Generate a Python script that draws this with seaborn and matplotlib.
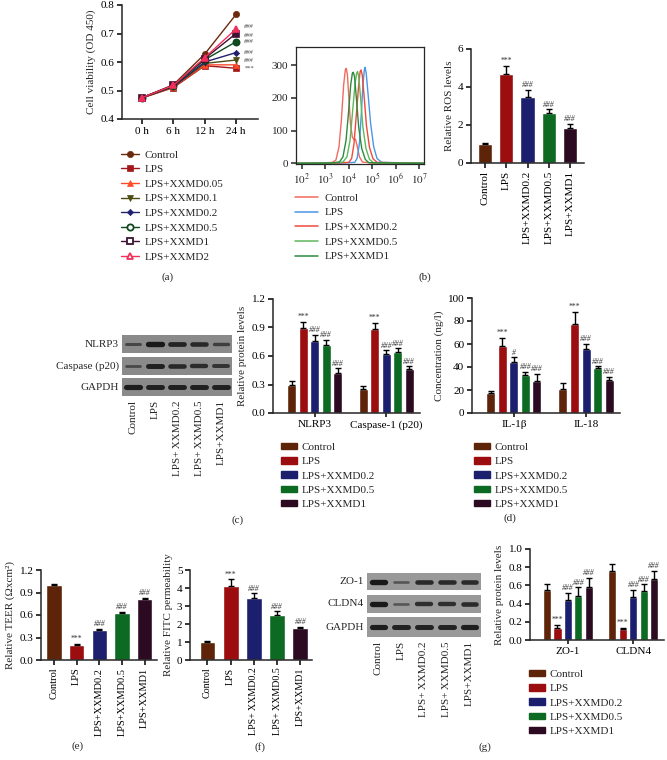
import numpy as np
import pandas as pd
import matplotlib

matplotlib.use("Agg")
import matplotlib.pyplot as plt
import seaborn as sns
from matplotlib.container import BarContainer
from matplotlib.patches import Patch
from matplotlib.lines import Line2D

W, H = 667, 760

GROUPS = ["Control", "LPS", "LPS+XXMD0.2", "LPS+XXMD0.5", "LPS+XXMD1"]
GROUP_COLORS = ["#5e2409", "#9b0d0f", "#1b1f6e", "#0d6a22", "#2c0a22"]
GROUP_SIG = ["", "***", "###", "###", "###"]

# (a) cell viability
TIMES = ["0 h", "6 h", "12 h", "24 h"]
VIAB_GROUPS = ["Control", "LPS", "LPS+XXMD0.05", "LPS+XXMD0.1",
               "LPS+XXMD0.2", "LPS+XXMD0.5", "LPS+XXMD1", "LPS+XXMD2"]
VIAB_CONTROL = [0.475, 0.520, 0.628, 0.767]
VIAB_LPS = [0.474, 0.510, 0.587, 0.578]
VIAB_X005 = [0.474, 0.512, 0.590, 0.590]
VIAB_X01 = [0.474, 0.513, 0.595, 0.607]
VIAB_X02 = [0.475, 0.515, 0.600, 0.633]
VIAB_X05 = [0.475, 0.517, 0.608, 0.671]
VIAB_X1 = [0.475, 0.518, 0.612, 0.700]
VIAB_X2 = [0.475, 0.518, 0.615, 0.716]
VIAB_SIG = ["", "***", "", "###", "###", "###", "###", "###"]
VIAB_COLORS = ["#6b2a0e", "#a3161a", "#ff4a2a", "#4b4b12",
               "#20206e", "#0f4a1f", "#3d1233", "#f0305a"]
VIAB_MARKERS = ["o", "s", "^", "v", "D", "o", "s", "^"]

# (b) flow cytometry histogram, log10 intensity vs count
HIST_GROUPS = ["Control", "LPS", "LPS+XXMD0.2", "LPS+XXMD0.5", "LPS+XXMD1"]
HIST_COLORS = ["#f26b61", "#4a96e8", "#f04a3a", "#5cb85c", "#2e8b3e"]
HIST_CONTROL_X = [1.75, 2.8, 3.3, 3.45, 3.58, 3.68, 3.78, 3.85, 3.89, 3.94, 4.0, 4.07, 4.15, 4.22, 4.28, 4.35, 4.45, 4.58, 5.0, 7.2]
HIST_CONTROL_Y = [0, 1, 3, 10, 50, 130, 240, 285, 290, 270, 200, 120, 80, 72, 74, 55, 20, 4, 1, 0]
HIST_LPS_X = [1.75, 3.7, 4.25, 4.35, 4.45, 4.53, 4.6, 4.66, 4.69, 4.74, 4.82, 4.93, 5.06, 5.2, 5.4, 7.2]
HIST_LPS_Y = [0, 1, 3, 15, 60, 150, 240, 285, 293, 275, 210, 120, 50, 15, 3, 0]
HIST_X02_X = [1.75, 3.5, 4.0, 4.12, 4.22, 4.32, 4.42, 4.48, 4.52, 4.57, 4.65, 4.75, 4.88, 5.03, 5.2, 7.2]
HIST_X02_Y = [0, 1, 3, 15, 60, 150, 240, 280, 285, 270, 205, 115, 48, 14, 3, 0]
HIST_X05_X = [1.75, 3.3, 3.75, 3.92, 4.05, 4.15, 4.26, 4.33, 4.37, 4.42, 4.5, 4.6, 4.73, 4.88, 5.05, 7.2]
HIST_X05_Y = [0, 1, 4, 20, 70, 150, 240, 275, 280, 265, 200, 110, 45, 12, 2, 0]
HIST_X1_X = [1.75, 3.2, 3.6, 3.75, 3.88, 3.98, 4.08, 4.15, 4.19, 4.24, 4.32, 4.42, 4.55, 4.7, 4.85, 7.2]
HIST_X1_Y = [0, 1, 4, 20, 70, 150, 240, 275, 278, 265, 200, 110, 45, 12, 2, 0]

# (b) ROS
ROS_VALUES = [1.00, 4.70, 3.50, 2.65, 1.85]
ROS_ERRORS = [0.05, 0.42, 0.34, 0.17, 0.21]

# (c) western blot + quantification
BLOT_C_ROWS = ["NLRP3", "Caspase (p20)", "GAPDH"]
BLOT_C_NLRP3 = [0.35, 0.95, 0.8, 0.75, 0.45]
BLOT_C_CASP = [0.3, 0.85, 0.75, 0.7, 0.6]
BLOT_C_GAPDH = [0.9, 0.85, 0.85, 0.85, 0.85]
LANE_LABELS = ["Control", "LPS", "LPS+\u2009XXMD0.2", "LPS+\u2009XXMD0.5", "LPS+XXMD1"]
PROT_C_TARGETS = ["NLRP3", "Caspase-1 (p20)"]
NLRP3_VALUES = [0.29, 0.89, 0.76, 0.72, 0.42]
NLRP3_ERRORS = [0.05, 0.07, 0.06, 0.05, 0.05]
NLRP3_SIG = ["", "***", "###", "###", "###"]
CASP_VALUES = [0.25, 0.88, 0.62, 0.64, 0.46]
CASP_ERRORS = [0.03, 0.07, 0.04, 0.04, 0.03]
CASP_SIG = ["", "***", "###", "###", "###"]

# (d) ELISA
CYTO_TARGETS = ["IL-1β", "IL-18"]
IL1B_VALUES = [17, 58, 44.5, 33, 28]
IL1B_ERRORS = [2.5, 7.5, 4, 3, 6]
IL1B_SIG = ["", "***", "#", "###", "###"]
IL18_VALUES = [21, 77, 56, 39.5, 29]
IL18_ERRORS = [5.5, 11, 4, 1.2, 2.5]
IL18_SIG = ["", "***", "###", "###", "###"]

# (e) TEER
TEER_VALUES = [1.00, 0.20, 0.40, 0.63, 0.81]
TEER_ERRORS = [0.01, 0.015, 0.015, 0.015, 0.02]

# (f) FITC permeability
FITC_VALUES = [1.00, 4.10, 3.43, 2.52, 1.77]
FITC_ERRORS = [0.06, 0.38, 0.27, 0.18, 0.08]
FITC_TICKS = ["Control", "LPS", "LPS+\u2009XXMD0.2", "LPS+\u2009XXMD0.5", "LPS+XXMD1"]

# (g) western blot + quantification
BLOT_G_ROWS = ["ZO-1", "CLDN4", "GAPDH"]
BLOT_G_ZO1 = [0.95, 0.25, 0.75, 0.75, 0.75]
BLOT_G_CLDN4 = [0.95, 0.25, 0.7, 0.7, 0.75]
BLOT_G_GAPDH = [0.9, 0.85, 0.85, 0.85, 0.9]
PROT_G_TARGETS = ["ZO-1", "CLDN4"]
ZO1_VALUES = [0.55, 0.13, 0.44, 0.48, 0.58]
ZO1_ERRORS = [0.07, 0.04, 0.08, 0.10, 0.10]
ZO1_SIG = ["", "***", "###", "###", "###"]
CLDN4_VALUES = [0.76, 0.12, 0.47, 0.54, 0.67]
CLDN4_ERRORS = [0.07, 0.015, 0.08, 0.07, 0.09]
CLDN4_SIG = ["", "***", "###", "###", "###"]

sns.set_style("ticks")
plt.rcParams["font.family"] = ["Liberation Serif", "DejaVu Serif"]
plt.rcParams["mathtext.fontset"] = "stix"
plt.rcParams["axes.linewidth"] = 1.1
plt.rcParams["xtick.major.width"] = 1.1
plt.rcParams["ytick.major.width"] = 1.1
plt.rcParams["xtick.major.size"] = 3.5
plt.rcParams["ytick.major.size"] = 3.5
FS = 8


def px_rect(left, top, right, bottom):
    return [left / W, 1 - bottom / H, (right - left) / W, (bottom - top) / H]


def style_axis(ax, ylabel):
    sns.despine(ax=ax)
    ax.set_xlabel("")
    ax.set_ylabel(ylabel, fontsize=FS, labelpad=3)
    ax.tick_params(labelsize=FS, pad=2, colors="black")


def add_errors(ax, bars, values, errors, sig, fs=5.5):
    for bar, v, e, s in zip(bars, values, errors, sig):
        x = bar.get_x() + bar.get_width() / 2
        ax.errorbar(x, v, yerr=[[0], [e]], fmt="none", ecolor="black",
                    elinewidth=1, capsize=2.4, capthick=1, zorder=5)
        if s:
            ax.annotate(s, (x, v + e), xytext=(0, 0.5), textcoords="offset points",
                        ha="center", va="bottom", fontsize=fs, color="#333333",
                        fontstyle="italic" if s.startswith("#") else "normal")


def single_bar_panel(rect, values, errors, ylim, yticks, ylabel, xlim, ticklabels,
                     xfs=FS):
    ax = fig.add_axes(px_rect(*rect))
    df = pd.DataFrame({"group": GROUPS, "value": values})
    sns.barplot(data=df, x="group", y="value", hue="group", palette=GROUP_COLORS,
                saturation=1, width=0.68, legend=False, ax=ax)
    add_errors(ax, list(ax.patches), values, errors, GROUP_SIG)
    ax.set_ylim(*ylim)
    ax.set_yticks(yticks)
    ax.set_xlim(*xlim)
    style_axis(ax, ylabel)
    ax.set_xticks(range(len(GROUPS)))
    ax.set_xticklabels(ticklabels, rotation=90, fontsize=xfs)
    return ax


def grouped_bar_panel(rect, targets, values, errors, sigs, ylim, yticks, ylabel, yfmt):
    ax = fig.add_axes(px_rect(*rect))
    rows = []
    for t, vals in zip(targets, values):
        for g, v in zip(GROUPS, vals):
            rows.append({"target": t, "group": g, "value": v})
    df = pd.DataFrame(rows)
    sns.barplot(data=df, x="target", y="value", hue="group", hue_order=GROUPS,
                palette=GROUP_COLORS, saturation=1, width=0.8, gap=0.22,
                legend=False, ax=ax)
    bar_sets = [c for c in ax.containers if isinstance(c, BarContainer)]
    for j, cont in enumerate(bar_sets):
        add_errors(ax, list(cont.patches), [vals[j] for vals in values],
                   [errs[j] for errs in errors], [s[j] for s in sigs])
    ax.set_ylim(*ylim)
    ax.set_yticks(yticks)
    ax.set_yticklabels([yfmt.format(t) for t in yticks])
    ax.set_xlim(-0.58, 1.47)
    style_axis(ax, ylabel)
    ax.tick_params(axis="x", direction="inout", length=6)
    return ax


def group_legend(x, y):
    handles = [Patch(facecolor=c, edgecolor=c) for c in GROUP_COLORS]
    fig.legend(handles, GROUPS, loc="upper left", bbox_to_anchor=(x / W, 1 - y / H),
               frameon=False, fontsize=FS, handlelength=1.4, handleheight=0.5,
               handletextpad=0.45, labelspacing=0.46, borderpad=0, borderaxespad=0)


def blot_panel(left, right, tops, bottoms, names, intensities, bg):
    for k, (t, b, name, inten) in enumerate(zip(tops, bottoms, names, intensities)):
        ax = fig.add_axes(px_rect(left, t, right, b))
        ax.set_facecolor(bg)
        for i, v in enumerate(inten):
            ax.plot([i - 0.3, i + 0.3], [0, 0], color="#151515", lw=1.2 + 2.8 * v,
                    alpha=0.35 + 0.65 * v, solid_capstyle="round")
        ax.set_xlim(-0.5, len(inten) - 0.5)
        ax.set_ylim(-1, 1)
        ax.set_yticks([])
        for sp in ax.spines.values():
            sp.set_visible(False)
        ax.text(-0.03, 0.5, name, transform=ax.transAxes, ha="right", va="center",
                fontsize=FS)
        if k == len(names) - 1:
            ax.set_xticks(range(len(inten)))
            ax.set_xticklabels(LANE_LABELS, rotation=90, fontsize=FS)
            ax.tick_params(axis="x", length=0, pad=3)
        else:
            ax.set_xticks([])


fig = plt.figure(figsize=(W / 100, H / 100), dpi=100)

# ---------- (a) ----------
ax = fig.add_axes(px_rect(122, 5, 258, 119))
viab_series = [VIAB_CONTROL, VIAB_LPS, VIAB_X005, VIAB_X01, VIAB_X02, VIAB_X05, VIAB_X1, VIAB_X2]
# small vertical nudges so the stacked significance marks at 24 h stay apart
sig_nudge = {"LPS+XXMD2": 2.0, "LPS+XXMD1": -1.5}
handles = []
for name, vals, col, mk, s in zip(VIAB_GROUPS, viab_series, VIAB_COLORS, VIAB_MARKERS, VIAB_SIG):
    df = pd.DataFrame({"time": list(range(len(TIMES))), "value": vals})
    hollow = name in ("LPS+XXMD0.5", "LPS+XXMD1", "LPS+XXMD2")
    ms = 3.2 if mk == "D" else 4.5
    sns.lineplot(data=df, x="time", y="value", color=col, marker=mk, markersize=ms,
                 markeredgecolor=col, markeredgewidth=1.2 if hollow else 0.5,
                 markerfacecolor=col, lw=1, ax=ax, legend=False)
    handles.append(Line2D([0], [0], color=col, marker=mk, markersize=ms, lw=1,
                          markeredgecolor=col, markeredgewidth=1.3 if hollow else 0.5,
                          markerfacecolor="white" if hollow else col))
    if s:
        ax.annotate(s, (3, vals[-1]), xytext=(6, sig_nudge.get(name, 0)),
                    textcoords="offset points", ha="left", va="center",
                    fontsize=4.6, color="#444444",
                    fontstyle="italic" if s.startswith("#") else "normal")
ax.set_xlim(-0.64, 3.7)
ax.set_xticks(range(len(TIMES)))
ax.set_xticklabels(TIMES)
ax.set_ylim(0.4, 0.8)
ax.set_yticks([0.4, 0.5, 0.6, 0.7, 0.8])
style_axis(ax, "Cell viability (OD 450)")
fig.legend(handles, VIAB_GROUPS, loc="upper left", bbox_to_anchor=(121 / W, 1 - 150 / H),
           frameon=False, fontsize=FS, handlelength=1.6, handletextpad=0.55,
           labelspacing=0.43, borderpad=0, borderaxespad=0)
fig.text(168 / W, 1 - 277 / H, "(a)", ha="center", va="center", fontsize=FS)

# ---------- (b) histogram ----------
ax = fig.add_axes(px_rect(296, 47, 424, 164))
hist_x = [HIST_CONTROL_X, HIST_LPS_X, HIST_X02_X, HIST_X05_X, HIST_X1_X]
hist_y = [HIST_CONTROL_Y, HIST_LPS_Y, HIST_X02_Y, HIST_X05_Y, HIST_X1_Y]
for name, xs, ys, col in zip(HIST_GROUPS, hist_x, hist_y, HIST_COLORS):
    df = pd.DataFrame({"intensity": np.power(10.0, xs), "count": ys})
    sns.lineplot(data=df, x="intensity", y="count", color=col, lw=1, ax=ax,
                 legend=False, sort=False)
ax.set_xscale("log")
ax.set_xlim(10 ** 1.75, 10 ** 7.2)
ax.set_ylim(-2, 355)
ax.set_yticks([0, 100, 200, 300])
ax.set_xticks([10.0 ** k for k in range(2, 8)])
ax.set_xticklabels([f"$10^{{{k}}}$" for k in range(2, 8)])
ax.set_xlabel("")
ax.set_ylabel("")
ax.tick_params(labelsize=FS, pad=2)
ax.tick_params(axis="x", which="minor", length=2)
for sp in ax.spines.values():
    sp.set_linewidth(0.9)
hist_handles = [Line2D([0], [0], color=c, lw=1.1) for c in HIST_COLORS]
fig.legend(hist_handles, HIST_GROUPS, loc="upper left", bbox_to_anchor=(295 / W, 1 - 193 / H),
           frameon=False, fontsize=FS, handlelength=2.1, handletextpad=0.55,
           labelspacing=0.44, borderpad=0, borderaxespad=0)

# ---------- (b) ROS ----------
single_bar_panel((471, 49, 584, 163), ROS_VALUES, ROS_ERRORS, (0, 6), [0, 2, 4, 6],
                 "Relative ROS levels", (-0.66, 4.66), GROUPS)
fig.text(425 / W, 1 - 277 / H, "(b)", ha="center", va="center", fontsize=FS)

# ---------- (c) ----------
blot_panel(122, 232, [335, 357, 378], [353, 375, 396], BLOT_C_ROWS,
           [BLOT_C_NLRP3, BLOT_C_CASP, BLOT_C_GAPDH], "#8a8a8a")
grouped_bar_panel((273, 299, 420, 413), PROT_C_TARGETS, [NLRP3_VALUES, CASP_VALUES],
                  [NLRP3_ERRORS, CASP_ERRORS], [NLRP3_SIG, CASP_SIG], (0, 1.2),
                  [0, 0.3, 0.6, 0.9, 1.2], "Relative protein levels", "{:.1f}")
group_legend(281, 443)
fig.text(238 / W, 1 - 520 / H, "(c)", ha="center", va="center", fontsize=FS)

# ---------- (d) ----------
grouped_bar_panel((472, 298, 620, 413), CYTO_TARGETS, [IL1B_VALUES, IL18_VALUES],
                  [IL1B_ERRORS, IL18_ERRORS], [IL1B_SIG, IL18_SIG], (0, 100),
                  [0, 20, 40, 60, 80, 100], "Concentration (ng/l)", "{:.0f}")
group_legend(474, 443)
fig.text(510 / W, 1 - 518 / H, "(d)", ha="center", va="center", fontsize=FS)

# ---------- (e) ----------
ax = single_bar_panel((41, 570, 157, 660), TEER_VALUES, TEER_ERRORS, (0, 1.2),
                      [0, 0.3, 0.6, 0.9, 1.2], "Relative TEER (Ωxcm²)",
                      (-0.57, 4.54), GROUPS, xfs=7.5)
ax.set_yticklabels(["0.0", "0.3", "0.6", "0.9", "1.2"])
fig.text(78 / W, 1 - 746 / H, "(e)", ha="center", va="center", fontsize=FS)

# ---------- (f) ----------
single_bar_panel((190, 570, 312, 660), FITC_VALUES, FITC_ERRORS, (0, 5), [0, 1, 2, 3, 4, 5],
                 "Relative FITC permeability", (-0.75, 4.5), FITC_TICKS, xfs=7.2)
fig.text(260 / W, 1 - 747 / H, "(f)", ha="center", va="center", fontsize=FS)

# ---------- (g) ----------
blot_panel(367, 481, [573, 595, 617], [590, 613, 637], BLOT_G_ROWS,
           [BLOT_G_ZO1, BLOT_G_CLDN4, BLOT_G_GAPDH], "#999999")
grouped_bar_panel((530, 549, 664, 640), PROT_G_TARGETS, [ZO1_VALUES, CLDN4_VALUES],
                  [ZO1_ERRORS, CLDN4_ERRORS], [ZO1_SIG, CLDN4_SIG], (0, 1.0),
                  [0, 0.2, 0.4, 0.6, 0.8, 1.0], "Relative protein levels", "{:.1f}")
group_legend(529, 670)
fig.text(485 / W, 1 - 747 / H, "(g)", ha="center", va="center", fontsize=FS)

fig.savefig("out.png", dpi=100)
